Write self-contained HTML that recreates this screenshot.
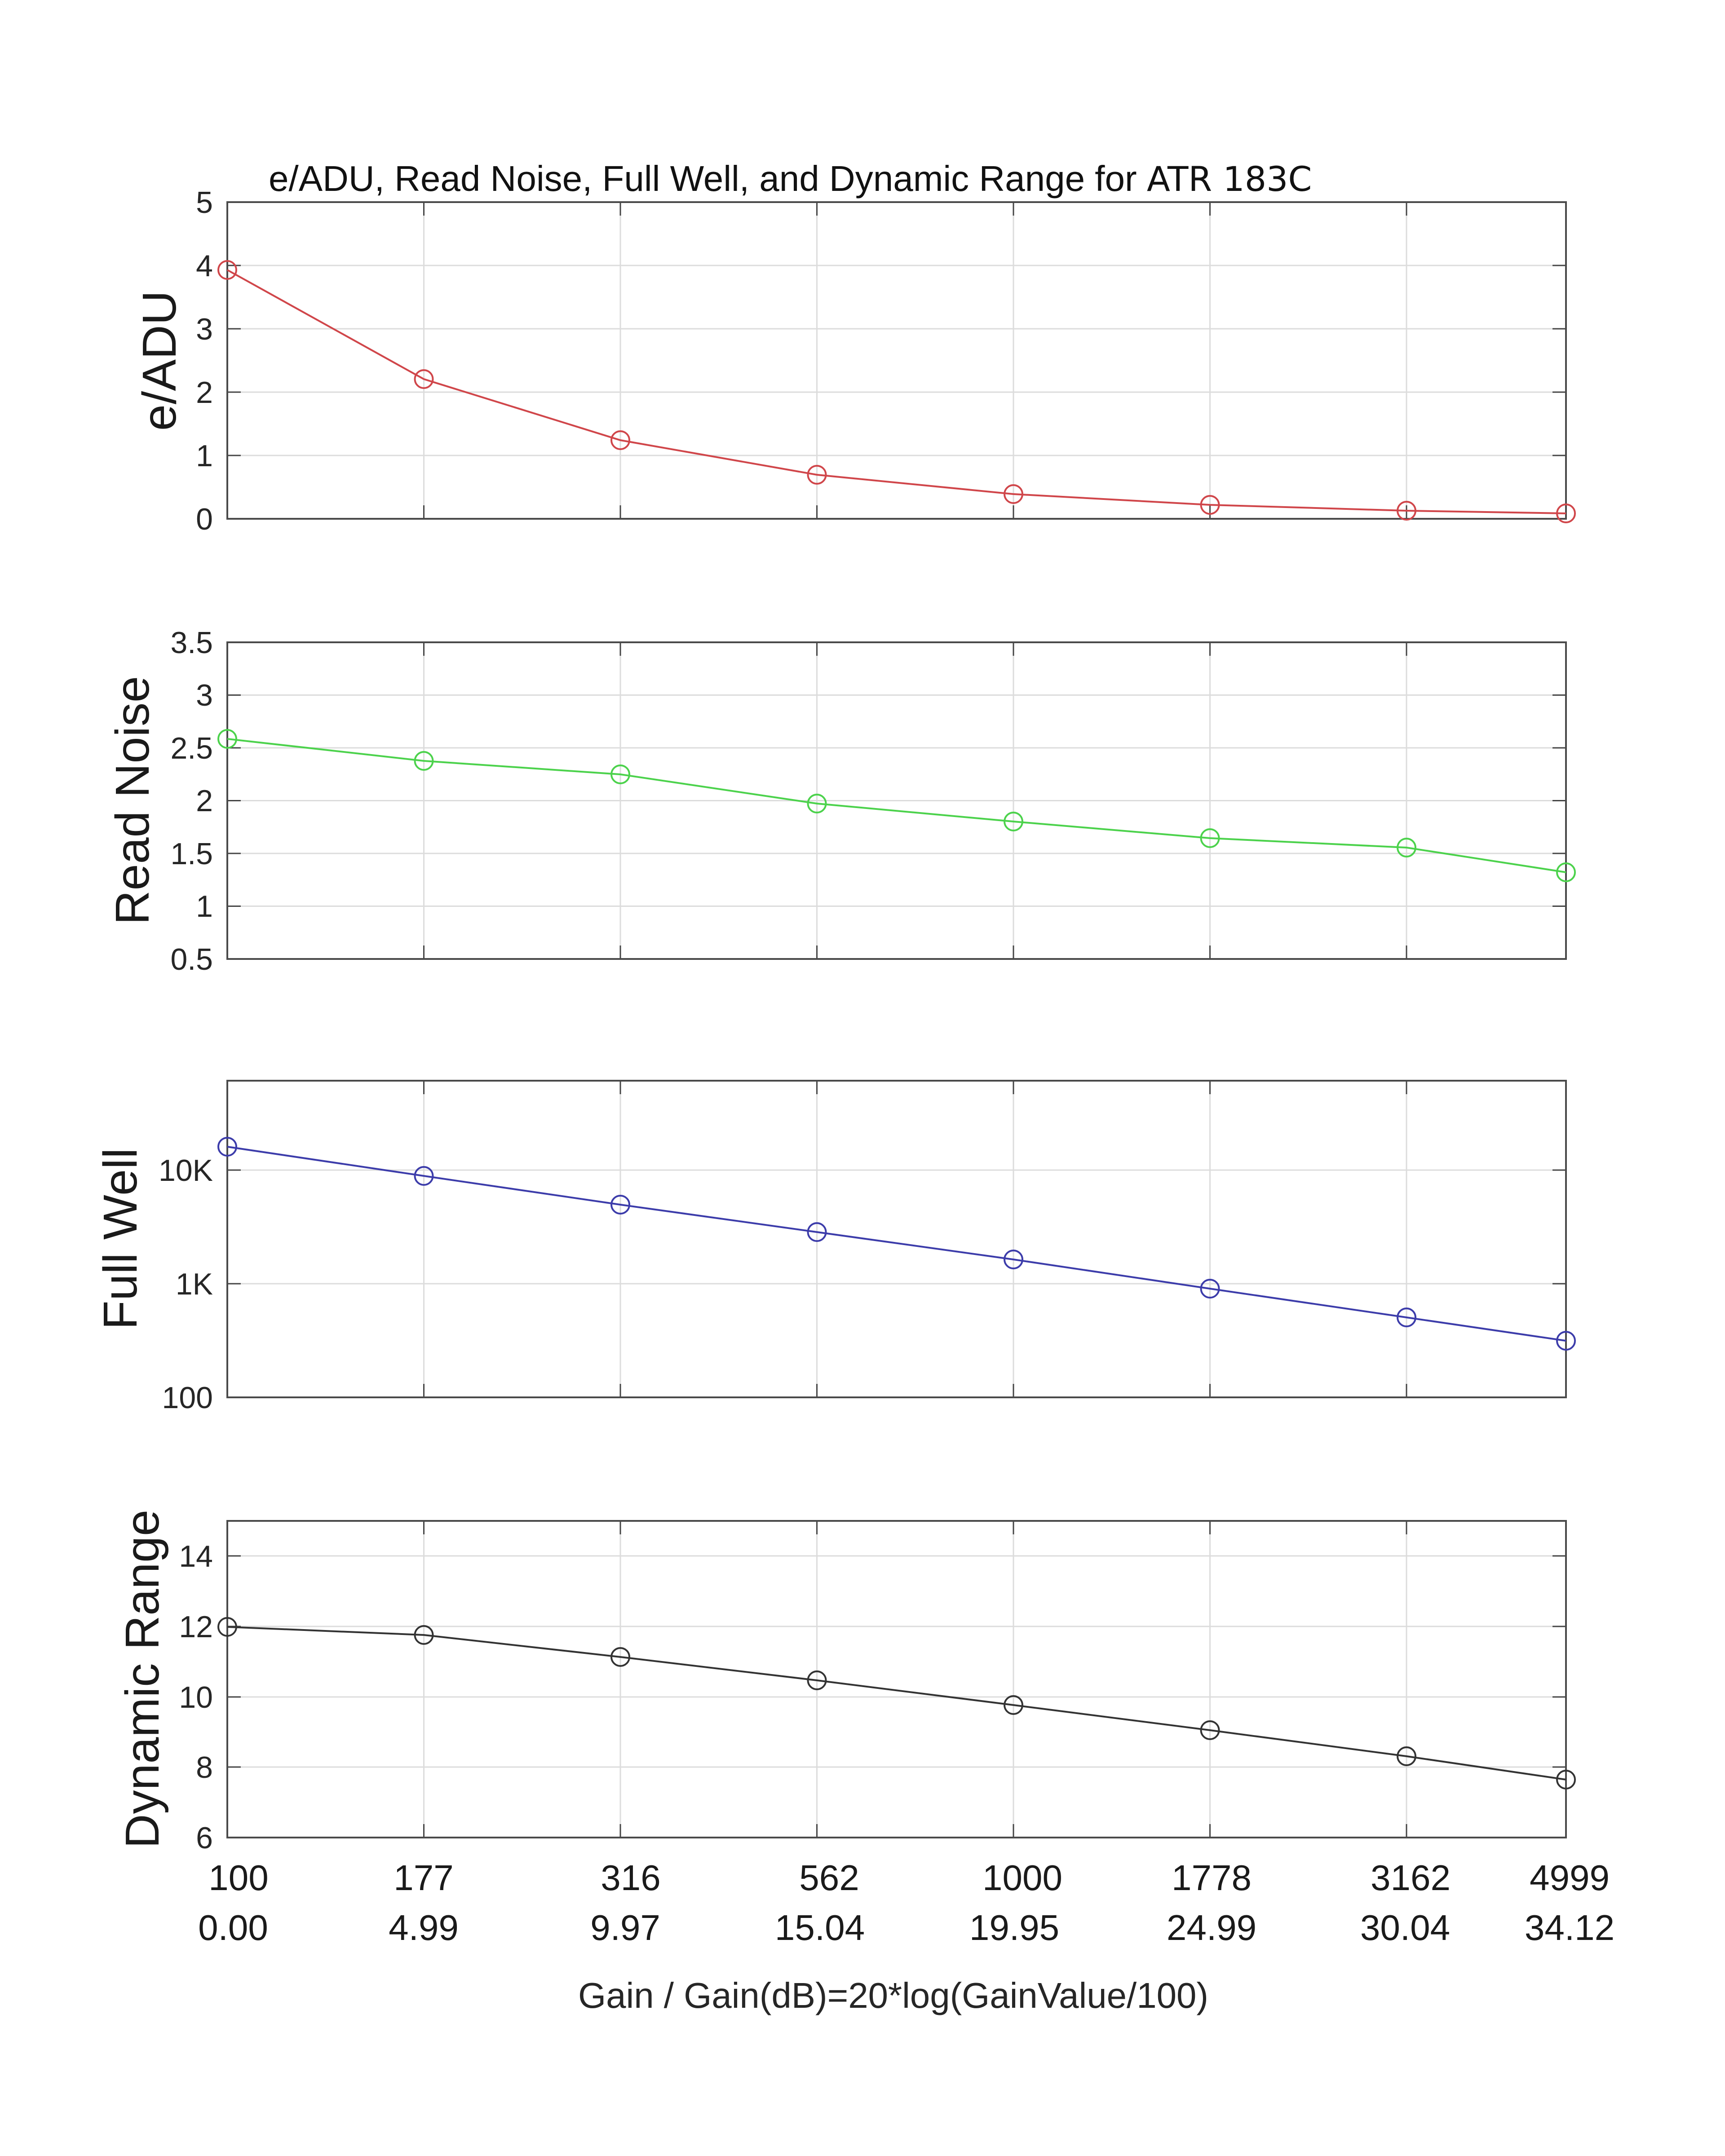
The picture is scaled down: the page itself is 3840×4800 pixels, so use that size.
<!DOCTYPE html>
<html><head><meta charset="utf-8"><style>html,body{margin:0;padding:0;background:#fff}svg{display:block}</style></head>
<body>
<svg xmlns="http://www.w3.org/2000/svg" width="3840" height="4800" viewBox="0 0 3840 4800" font-family="Liberation Sans, Arial, sans-serif">
<rect width="3840" height="4800" fill="#fff"/>
<!-- title -->
<text x="598" y="425" font-size="80" fill="#111">e/ADU, Read Noise, Full Well, and Dynamic Range for <tspan font-family="DejaVu Sans, sans-serif" font-size="76">ATR 183C</tspan></text>

<g stroke="#dcdcdc" stroke-width="3">
<!-- vertical grid for all plots -->
<g id="vg">
<line x1="943.5" y1="450" x2="943.5" y2="1155"/><line x1="1381" y1="450" x2="1381" y2="1155"/><line x1="1818.5" y1="450" x2="1818.5" y2="1155"/><line x1="2256" y1="450" x2="2256" y2="1155"/><line x1="2693.5" y1="450" x2="2693.5" y2="1155"/><line x1="3131" y1="450" x2="3131" y2="1155"/>
<line x1="943.5" y1="1430" x2="943.5" y2="2135"/><line x1="1381" y1="1430" x2="1381" y2="2135"/><line x1="1818.5" y1="1430" x2="1818.5" y2="2135"/><line x1="2256" y1="1430" x2="2256" y2="2135"/><line x1="2693.5" y1="1430" x2="2693.5" y2="2135"/><line x1="3131" y1="1430" x2="3131" y2="2135"/>
<line x1="943.5" y1="2406" x2="943.5" y2="3111"/><line x1="1381" y1="2406" x2="1381" y2="3111"/><line x1="1818.5" y1="2406" x2="1818.5" y2="3111"/><line x1="2256" y1="2406" x2="2256" y2="3111"/><line x1="2693.5" y1="2406" x2="2693.5" y2="3111"/><line x1="3131" y1="2406" x2="3131" y2="3111"/>
<line x1="943.5" y1="3386" x2="943.5" y2="4091"/><line x1="1381" y1="3386" x2="1381" y2="4091"/><line x1="1818.5" y1="3386" x2="1818.5" y2="4091"/><line x1="2256" y1="3386" x2="2256" y2="4091"/><line x1="2693.5" y1="3386" x2="2693.5" y2="4091"/><line x1="3131" y1="3386" x2="3131" y2="4091"/>
</g>
<!-- horizontal grid -->
<line x1="506" y1="591" x2="3486" y2="591"/><line x1="506" y1="732" x2="3486" y2="732"/><line x1="506" y1="873" x2="3486" y2="873"/><line x1="506" y1="1014" x2="3486" y2="1014"/>
<line x1="506" y1="1547.5" x2="3486" y2="1547.5"/><line x1="506" y1="1665" x2="3486" y2="1665"/><line x1="506" y1="1782.5" x2="3486" y2="1782.5"/><line x1="506" y1="1900" x2="3486" y2="1900"/><line x1="506" y1="2017.5" x2="3486" y2="2017.5"/>
<line x1="506" y1="2605" x2="3486" y2="2605"/><line x1="506" y1="2858" x2="3486" y2="2858"/>
<line x1="506" y1="3464" x2="3486" y2="3464"/><line x1="506" y1="3621" x2="3486" y2="3621"/><line x1="506" y1="3778" x2="3486" y2="3778"/><line x1="506" y1="3934" x2="3486" y2="3934"/>
</g>

<!-- ticks -->
<g stroke="#444" stroke-width="3">
<path d="M943.5 450v30M1381 450v30M1818.5 450v30M2256 450v30M2693.5 450v30M3131 450v30M943.5 1155v-30M1381 1155v-30M1818.5 1155v-30M2256 1155v-30M2693.5 1155v-30M3131 1155v-30
M506 591h30M506 732h30M506 873h30M506 1014h30M3486 591h-30M3486 732h-30M3486 873h-30M3486 1014h-30"/>
<path d="M943.5 1430v30M1381 1430v30M1818.5 1430v30M2256 1430v30M2693.5 1430v30M3131 1430v30M943.5 2135v-30M1381 2135v-30M1818.5 2135v-30M2256 2135v-30M2693.5 2135v-30M3131 2135v-30
M506 1547.5h30M506 1665h30M506 1782.5h30M506 1900h30M506 2017.5h30M3486 1547.5h-30M3486 1665h-30M3486 1782.5h-30M3486 1900h-30M3486 2017.5h-30"/>
<path d="M943.5 2406v30M1381 2406v30M1818.5 2406v30M2256 2406v30M2693.5 2406v30M3131 2406v30M943.5 3111v-30M1381 3111v-30M1818.5 3111v-30M2256 3111v-30M2693.5 3111v-30M3131 3111v-30
M506 2605h30M506 2858h30M3486 2605h-30M3486 2858h-30"/>
<path d="M943.5 3386v30M1381 3386v30M1818.5 3386v30M2256 3386v30M2693.5 3386v30M3131 3386v30M943.5 4091v-30M1381 4091v-30M1818.5 4091v-30M2256 4091v-30M2693.5 4091v-30M3131 4091v-30
M506 3464h30M506 3621h30M506 3778h30M506 3934h30M3486 3464h-30M3486 3621h-30M3486 3778h-30M3486 3934h-30"/>
</g>

<!-- axes boxes -->
<g fill="none" stroke="#4a4a4a" stroke-width="4">
<rect x="506" y="450" width="2980" height="705"/>
<rect x="506" y="1430" width="2980" height="705"/>
<rect x="506" y="2406" width="2980" height="705"/>
<rect x="506" y="3386" width="2980" height="705"/>
</g>

<!-- y tick labels -->
<g font-size="68" fill="#262626" text-anchor="end">
<text x="474" y="474">5</text><text x="474" y="615">4</text><text x="474" y="756">3</text><text x="474" y="897">2</text><text x="474" y="1038">1</text><text x="474" y="1179">0</text>
<text x="474" y="1454">3.5</text><text x="474" y="1571">3</text><text x="474" y="1689">2.5</text><text x="474" y="1806">2</text><text x="474" y="1924">1.5</text><text x="474" y="2041">1</text><text x="474" y="2159">0.5</text>
<text x="474" y="2629">10K</text><text x="474" y="2882">1K</text><text x="474" y="3135">100</text>
<text x="474" y="3488">14</text><text x="474" y="3645">12</text><text x="474" y="3802">10</text><text x="474" y="3958">8</text><text x="474" y="4115">6</text>
</g>

<!-- y axis labels -->
<g font-size="106" fill="#1a1a1a" text-anchor="middle">
<text transform="translate(391,803) rotate(-90)">e/ADU</text>
<text transform="translate(331,1782) rotate(-90)">Read Noise</text>
<text transform="translate(304,2758) rotate(-90)">Full Well</text>
<text transform="translate(353,3738) rotate(-90)">Dynamic Range</text>
</g>

<!-- x tick labels -->
<g font-size="80" fill="#1a1a1a" text-anchor="middle">
<text x="531" y="4208">100</text><text x="943" y="4208">177</text><text x="1404" y="4208">316</text><text x="1846" y="4208">562</text><text x="2276" y="4208">1000</text><text x="2697" y="4208">1778</text><text x="3140" y="4208">3162</text><text x="3494" y="4208">4999</text>
<text x="519" y="4319">0.00</text><text x="943" y="4319">4.99</text><text x="1392" y="4319">9.97</text><text x="1825" y="4319">15.04</text><text x="2258" y="4319">19.95</text><text x="2697" y="4319">24.99</text><text x="3128" y="4319">30.04</text><text x="3494" y="4319">34.12</text>
</g>
<text x="1287" y="4470" font-size="80" fill="#262626" textLength="1403" lengthAdjust="spacingAndGlyphs">Gain / Gain(dB)=20*log(GainValue/100)</text>

<!-- series -->
<g fill="none" stroke-width="4">
<g stroke="#d0464a">
<polyline points="506,601 943.5,844 1381,980 1818.5,1057 2256,1100 2693.5,1124 3131,1137 3486,1143"/>
<circle cx="506" cy="601" r="20"/><circle cx="943.5" cy="844" r="20"/><circle cx="1381" cy="980" r="20"/><circle cx="1818.5" cy="1057" r="20"/><circle cx="2256" cy="1100" r="20"/><circle cx="2693.5" cy="1124" r="20"/><circle cx="3131" cy="1137" r="20"/><circle cx="3486" cy="1143" r="20"/>
</g>
<g stroke="#4cd24c">
<polyline points="506,1645 943.5,1694 1381,1724 1818.5,1789 2256,1829 2693.5,1866 3131,1887 3486,1942"/>
<circle cx="506" cy="1645" r="20"/><circle cx="943.5" cy="1694" r="20"/><circle cx="1381" cy="1724" r="20"/><circle cx="1818.5" cy="1789" r="20"/><circle cx="2256" cy="1829" r="20"/><circle cx="2693.5" cy="1866" r="20"/><circle cx="3131" cy="1887" r="20"/><circle cx="3486" cy="1942" r="20"/>
</g>
<g stroke="#3c3caa">
<polyline points="506,2553 943.5,2618 1381,2682 1818.5,2743 2256,2804 2693.5,2869 3131,2933 3486,2985"/>
<circle cx="506" cy="2553" r="20"/><circle cx="943.5" cy="2618" r="20"/><circle cx="1381" cy="2682" r="20"/><circle cx="1818.5" cy="2743" r="20"/><circle cx="2256" cy="2804" r="20"/><circle cx="2693.5" cy="2869" r="20"/><circle cx="3131" cy="2933" r="20"/><circle cx="3486" cy="2985" r="20"/>
</g>
<g stroke="#333">
<polyline points="506,3622 943.5,3640 1381,3689 1818.5,3741 2256,3796 2693.5,3852 3131,3910 3486,3962"/>
<circle cx="506" cy="3622" r="20"/><circle cx="943.5" cy="3640" r="20"/><circle cx="1381" cy="3689" r="20"/><circle cx="1818.5" cy="3741" r="20"/><circle cx="2256" cy="3796" r="20"/><circle cx="2693.5" cy="3852" r="20"/><circle cx="3131" cy="3910" r="20"/><circle cx="3486" cy="3962" r="20"/>
</g>
</g>
</svg>
</body></html>
